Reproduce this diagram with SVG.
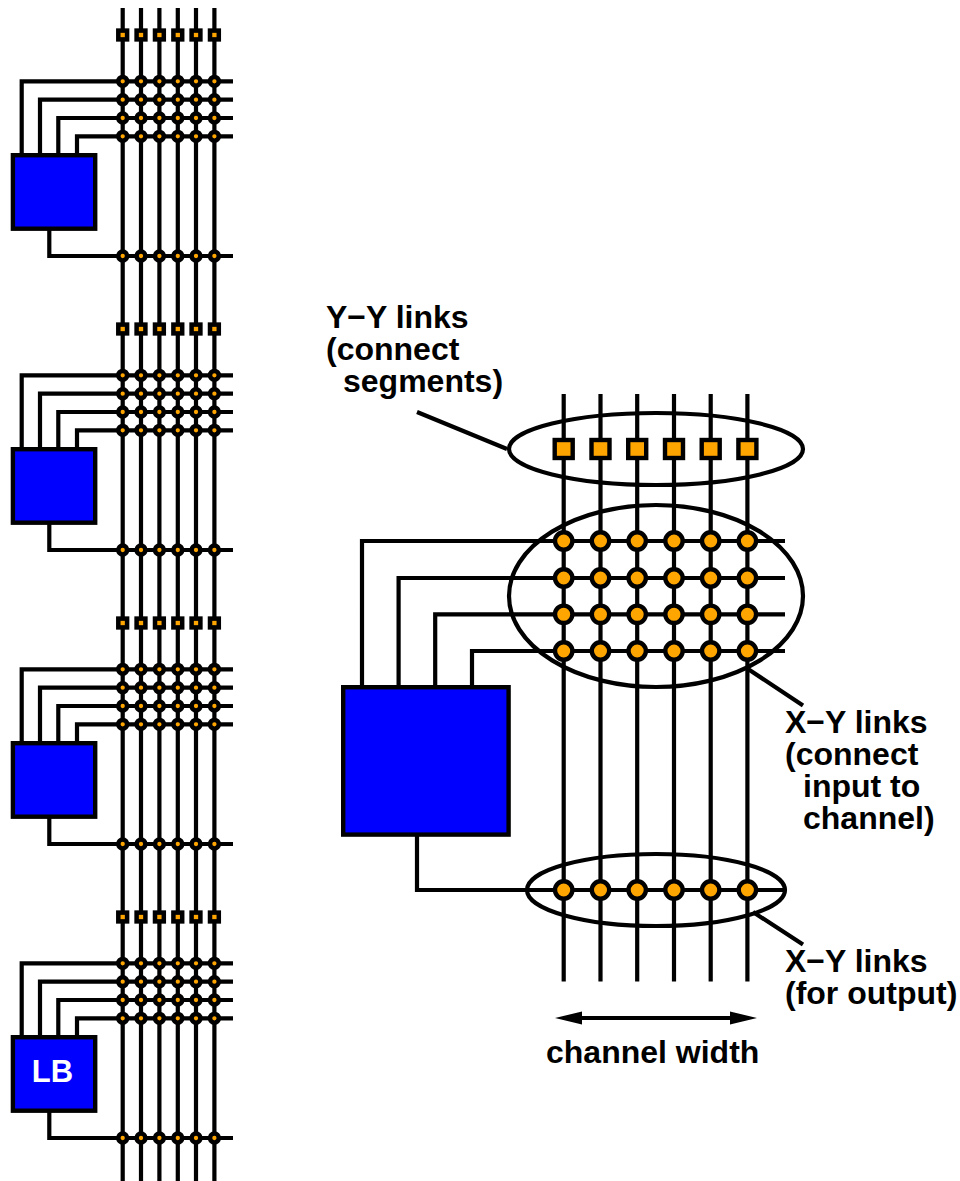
<svg xmlns="http://www.w3.org/2000/svg" width="960" height="1181" viewBox="0 0 960 1181">
<style>
.w{fill:none;stroke:#000;stroke-width:4.2}
.lb{fill:#00f;stroke:#000;stroke-width:4.4}
.o{fill:#ffa500;stroke:#000}
.t{font-family:"Liberation Sans",Arial,sans-serif;font-weight:700;font-size:32px;fill:#000}
</style>
<defs>
<g id="tile">
<path class="w" d="M122.7 8V302M141 8V302M159.4 8V302M177.8 8V302M196 8V302M214.4 8V302"/>
<path class="w" d="M21.7 155V81.3H233M40 155V99.7H233M58.3 155V118H233M77 155V136.3H233M49.3 229V256H233"/>
<g class="o" stroke-width="4.5">
<rect x="118.300" y="30.600" width="8.8" height="8.8"/><rect x="136.600" y="30.600" width="8.8" height="8.8"/><rect x="155" y="30.600" width="8.8" height="8.8"/><rect x="173.400" y="30.600" width="8.8" height="8.8"/><rect x="191.600" y="30.600" width="8.8" height="8.8"/><rect x="210" y="30.600" width="8.8" height="8.8"/>
</g>
<g class="o" stroke-width="4.5">
<circle cx="122.7" cy="81.3" r="4.4"/><circle cx="141" cy="81.3" r="4.4"/><circle cx="159.4" cy="81.3" r="4.4"/><circle cx="177.8" cy="81.3" r="4.4"/><circle cx="196" cy="81.3" r="4.4"/><circle cx="214.4" cy="81.3" r="4.4"/>
<circle cx="122.7" cy="99.7" r="4.4"/><circle cx="141" cy="99.7" r="4.4"/><circle cx="159.4" cy="99.7" r="4.4"/><circle cx="177.8" cy="99.7" r="4.4"/><circle cx="196" cy="99.7" r="4.4"/><circle cx="214.4" cy="99.7" r="4.4"/>
<circle cx="122.7" cy="118" r="4.4"/><circle cx="141" cy="118" r="4.4"/><circle cx="159.4" cy="118" r="4.4"/><circle cx="177.8" cy="118" r="4.4"/><circle cx="196" cy="118" r="4.4"/><circle cx="214.4" cy="118" r="4.4"/>
<circle cx="122.7" cy="136.3" r="4.4"/><circle cx="141" cy="136.3" r="4.4"/><circle cx="159.4" cy="136.3" r="4.4"/><circle cx="177.8" cy="136.3" r="4.4"/><circle cx="196" cy="136.3" r="4.4"/><circle cx="214.4" cy="136.3" r="4.4"/>
<circle cx="122.7" cy="256" r="4.4"/><circle cx="141" cy="256" r="4.4"/><circle cx="159.4" cy="256" r="4.4"/><circle cx="177.8" cy="256" r="4.4"/><circle cx="196" cy="256" r="4.4"/><circle cx="214.4" cy="256" r="4.4"/>
</g>
<rect class="lb" x="12.900" y="155.200" width="82.300" height="73.500"/>
</g>
</defs>
<g id="tile1"><use href="#tile"/></g>
<g id="tile2"><use href="#tile" y="294"/></g>
<g id="tile3"><use href="#tile" y="588"/></g>
<g id="tile4"><use href="#tile" y="882"/><text x="52.500" y="1082" text-anchor="middle" style="font-family:'Liberation Sans',Arial,sans-serif;font-weight:700;font-size:31px;fill:#fff">LB</text></g>
<g id="connectors">
<path class="w" d="M563.7 394V981.5M600.5 394V981.5M637.2 394V981.5M674 394V981.5M710.7 394V981.5M747.4 394V981.5"/>
<path class="w" d="M362 687V541H785M398.6 687V578H785M435.2 687V614.3H785M472 687V651H785M417 835V890H785"/>
<path class="w" d="M417 412L507 449M748 669L803 705.500M753 912L803 944.500"/>
<path class="w" d="M578 1018H734"/>
<path d="M555 1018L582 1011.500V1024.500ZM757 1018L730 1011.500V1024.500Z"/>
</g>
<g id="yy-oval"><ellipse class="w" cx="656" cy="449" rx="147" ry="36"/></g>
<g id="xy-oval"><ellipse class="w" cx="656" cy="596" rx="147" ry="91"/></g>
<g id="out-oval"><ellipse class="w" cx="656" cy="890" rx="129" ry="36"/></g>
<g id="yy-switches" class="o" stroke-width="4.4">
<rect x="554.700" y="440" width="18" height="18"/><rect x="591.500" y="440" width="18" height="18"/><rect x="628.200" y="440" width="18" height="18"/><rect x="665" y="440" width="18" height="18"/><rect x="701.700" y="440" width="18" height="18"/><rect x="738.400" y="440" width="18" height="18"/>
</g>
<g id="xy-switches" class="o" stroke-width="4.4">
<circle cx="563.7" cy="541" r="8.7"/><circle cx="600.5" cy="541" r="8.7"/><circle cx="637.2" cy="541" r="8.7"/><circle cx="674" cy="541" r="8.7"/><circle cx="710.7" cy="541" r="8.7"/><circle cx="747.4" cy="541" r="8.7"/>
<circle cx="563.7" cy="578" r="8.7"/><circle cx="600.5" cy="578" r="8.7"/><circle cx="637.2" cy="578" r="8.7"/><circle cx="674" cy="578" r="8.7"/><circle cx="710.7" cy="578" r="8.7"/><circle cx="747.4" cy="578" r="8.7"/>
<circle cx="563.7" cy="614.3" r="8.7"/><circle cx="600.5" cy="614.3" r="8.7"/><circle cx="637.2" cy="614.3" r="8.7"/><circle cx="674" cy="614.3" r="8.7"/><circle cx="710.7" cy="614.3" r="8.7"/><circle cx="747.4" cy="614.3" r="8.7"/>
<circle cx="563.7" cy="651" r="8.7"/><circle cx="600.5" cy="651" r="8.7"/><circle cx="637.2" cy="651" r="8.7"/><circle cx="674" cy="651" r="8.7"/><circle cx="710.7" cy="651" r="8.7"/><circle cx="747.4" cy="651" r="8.7"/>
<circle cx="563.7" cy="890" r="8.7"/><circle cx="600.5" cy="890" r="8.7"/><circle cx="637.2" cy="890" r="8.7"/><circle cx="674" cy="890" r="8.7"/><circle cx="710.7" cy="890" r="8.7"/><circle cx="747.4" cy="890" r="8.7"/>
</g>
<g id="big-lb"><rect class="lb" x="343.200" y="687.200" width="165.400" height="147.400"/></g>
<g id="labels">
<text class="t" x="326" y="328">Y−Y links</text>
<text class="t" x="326" y="360">(connect</text>
<text class="t" x="343" y="392">segments)</text>
<text class="t" x="785" y="733">X−Y links</text>
<text class="t" x="785" y="764.500">(connect</text>
<text class="t" x="803" y="797">input to</text>
<text class="t" x="803" y="829">channel)</text>
<text class="t" x="785" y="972">X−Y links</text>
<text class="t" x="785" y="1003.500">(for output)</text>
<text class="t" x="546" y="1063">channel width</text>
</g>
</svg>
